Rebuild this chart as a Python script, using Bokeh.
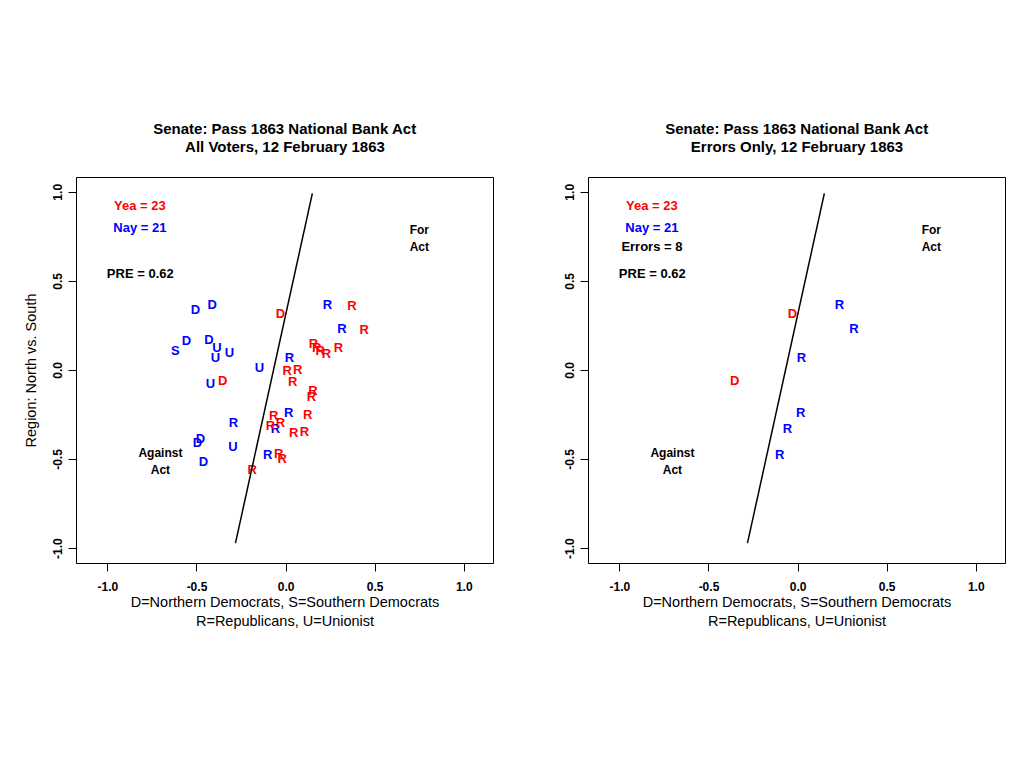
from bokeh.plotting import figure
from bokeh.models import (Range1d, FixedTicker, NumeralTickFormatter, LinearAxis,
                          ColumnDataSource)
from bokeh.layouts import row
from bokeh.core.properties import value
from bokeh.embed import file_html
from bokeh.resources import INLINE

# ---- data ----
party = ["D", "D", "D", "D", "D", "D", "D", "S",
         "U", "U", "U", "U", "U", "U",
         "R", "R", "R", "R", "R", "R", "R",
         "D", "D",
         "R", "R", "R", "R", "R", "R", "R", "R", "R", "R", "R", "R", "R",
         "R", "R", "R", "R", "R", "R", "R", "R"]
xcoord = [-0.509, -0.414, -0.559, -0.433, -0.481, -0.497, -0.464, -0.621,
          -0.388, -0.397, -0.318, -0.150, -0.425, -0.298,
          0.232, 0.314, 0.019, -0.296, -0.060, 0.015, -0.103,
          -0.032, -0.355,
          0.370, 0.439, 0.154, 0.172, 0.192, 0.226, 0.294, 0.006, 0.065, 0.037, 0.151, 0.142, 0.121,
          -0.070, -0.088, -0.032, 0.043, 0.103, -0.041, -0.022, -0.190]
ycoord = [0.340, 0.371, 0.169, 0.171, -0.382, -0.404, -0.511, 0.112,
          0.129, 0.073, 0.101, 0.017, -0.073, -0.427,
          0.371, 0.238, 0.073, -0.292, -0.326, -0.238, -0.472,
          0.320, -0.056,
          0.365, 0.229, 0.153, 0.131, 0.112, 0.094, 0.131, 0.000, 0.004, -0.062, -0.112, -0.146, -0.249,
          -0.253, -0.309, -0.290, -0.347, -0.341, -0.468, -0.496, -0.558]
vote = ["Nay"] * 21 + ["Yea"] * 23
error = [False] * 14 + [True, True, True, False, True, True, True] + [True, True] + [False] * 21

cut_x = [0.1475, -0.284]
cut_y = [0.994, -0.970]

tick_vals = [-1.0, -0.5, 0.0, 0.5, 1.0]

yea_n, nay_n, errors_n, pre = 23, 21, 8, 0.62

main_title = "Senate: Pass 1863 National Bank Act"
subtitles = ["All Voters, 12 February 1863", "Errors Only, 12 February 1863"]
xlab1 = "D=Northern Democrats, S=Southern Democrats"
xlab2 = "R=Republicans, U=Unionist"
ylab = "Region: North vs. South"

FONT = "Liberation Sans"
colors = {"Yea": "#FF0000", "Nay": "#0000FF"}
XR = (-1.176, 1.164)
YR = (-1.084, 1.083)


def make_panel(subtitle, errors_only, width, border_left, border_right, ylabel):
    p = figure(width=width, height=643, title=None,
               x_range=Range1d(*XR), y_range=Range1d(*YR),
               output_backend="svg", toolbar_location=None,
               min_border_left=border_left, min_border_right=border_right,
               min_border_top=177, min_border_bottom=80)
    p.xgrid.visible = False
    p.ygrid.visible = False
    p.outline_line_color = "black"
    p.outline_line_width = 1
    p.background_fill_color = "white"
    p.border_fill_color = "white"

    for ax in (p.xaxis, p.yaxis):
        ax.ticker = FixedTicker(ticks=tick_vals)
        ax.formatter = NumeralTickFormatter(format="0.0")
        ax.axis_line_color = None
        ax.major_tick_in = 0
        ax.major_tick_out = 8
        ax.major_tick_line_color = "black"
        ax.minor_tick_line_color = None
        ax.major_label_text_font = FONT
        ax.major_label_text_font_style = "bold"
        ax.major_label_text_font_size = "12px"
        ax.major_label_text_color = "black"
    p.xaxis.major_label_standoff = 10
    p.yaxis.major_label_standoff = 6
    p.yaxis.major_label_orientation = "vertical"

    p.xaxis.axis_label = xlab1 + "\n" + xlab2
    p.xaxis.axis_label_standoff = 0
    p.xaxis.axis_label_text_font = FONT
    p.xaxis.axis_label_text_font_style = "normal"
    p.xaxis.axis_label_text_font_size = "14.5px"
    p.xaxis.axis_label_text_color = "black"
    p.xaxis.axis_label_text_line_height = 1.2
    if ylabel:
        p.yaxis.axis_label = ylabel
        p.yaxis.axis_label_standoff = 12
        p.yaxis.axis_label_text_font = FONT
        p.yaxis.axis_label_text_font_style = "normal"
        p.yaxis.axis_label_text_font_size = "14.5px"
        p.yaxis.axis_label_text_color = "black"

    # two-line centred title carried by a tick-less axis above the frame
    top = LinearAxis(ticker=FixedTicker(ticks=[]), axis_line_color=None,
                     major_tick_line_color=None, minor_tick_line_color=None,
                     major_tick_out=0, major_tick_in=0,
                     axis_label=main_title + "\n" + subtitle,
                     axis_label_standoff=23,
                     axis_label_text_font=FONT, axis_label_text_font_style="bold",
                     axis_label_text_font_size="15px", axis_label_text_color="black",
                     axis_label_text_line_height=1.03)
    p.add_layout(top, "above")

    idx = [i for i in range(len(party)) if (error[i] or not errors_only)]
    src = ColumnDataSource(dict(
        x=[xcoord[i] for i in idx], y=[ycoord[i] for i in idx],
        t=[party[i] for i in idx], c=[colors[vote[i]] for i in idx]))
    p.text(x="x", y="y", text="t", source=src, text_color="c",
           text_font=value(FONT), text_font_style="bold", text_font_size="13px",
           text_align="center", text_baseline="middle")

    p.line(cut_x, cut_y, line_color="black", line_width=1.5)

    lab = dict(text_font=value(FONT), text_font_style="bold", text_font_size="13px",
               text_align="center", text_baseline="middle")
    p.text(x=[-0.81], y=[0.927], text=[f"Yea =  {yea_n}"], text_color="#FF0000", **lab)
    p.text(x=[-0.81], y=[0.803], text=[f"Nay =  {nay_n}"], text_color="#0000FF", **lab)
    if errors_only:
        p.text(x=[-0.81], y=[0.693], text=[f"Errors =  {errors_n}"], text_color="black", **lab)
    p.text(x=[-0.808], y=[0.543], text=[f"PRE =  {pre:.2f}"], text_color="black", **lab)
    lab2 = dict(text_font=value(FONT), text_font_style="bold", text_font_size="12px",
                text_align="center", text_baseline="middle", text_color="black",
                text_line_height=1.2)
    p.text(x=[0.748], y=[0.742], text=["For\nAct"], **lab2)
    p.text(x=[-0.705], y=[-0.51], text=["Against\nAct"], **lab2)
    return p


p1 = make_panel(subtitles[0], False, 512, 76, 19, ylab)
p2 = make_panel(subtitles[1], True, 504, 76, 11, None)
layout = row(p1, p2)

open("out.html", "w").write(file_html(layout, INLINE))
